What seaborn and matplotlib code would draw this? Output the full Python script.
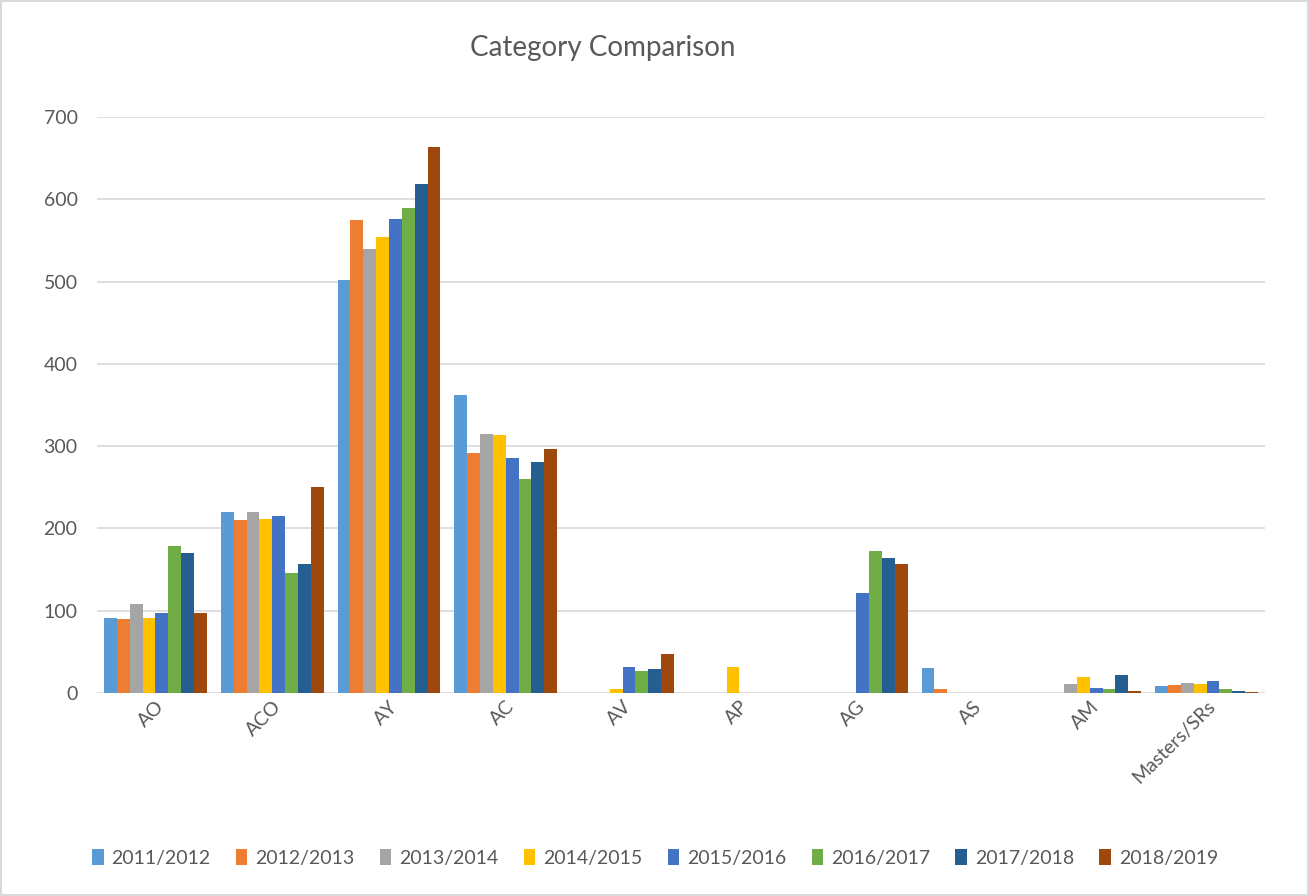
import pandas as pd
import seaborn as sns
import matplotlib.pyplot as plt

categorias = ['AO', 'ACO', 'AY', 'AC', 'AV', 'AP', 'AG', 'AS', 'AM', 'Masters/SRs']
anos = ['2011/2012', '2012/2013', '2013/2014', '2014/2015',
        '2015/2016', '2016/2017', '2017/2018', '2018/2019']

v_2011 = [91, 220, 502, 362, 0, 0, 0, 30, 0, 8]
v_2012 = [90, 210, 575, 292, 0, 0, 0, 5, 0, 10]
v_2013 = [108, 220, 540, 315, 0, 0, 0, 0, 11, 12]
v_2014 = [91, 211, 554, 313, 5, 31, 0, 0, 20, 11]
v_2015 = [97, 215, 576, 286, 31, 0, 122, 0, 6, 15]
v_2016 = [179, 146, 589, 260, 27, 0, 173, 0, 5, 5]
v_2017 = [170, 157, 619, 281, 29, 0, 164, 0, 22, 3]
v_2018 = [97, 250, 664, 297, 48, 0, 157, 0, 2, 1]

cores = ['#5B9BD5', '#ED7D31', '#A5A5A5', '#FFC000',
         '#4472C4', '#70AD47', '#255E91', '#9E480E']

valores = [v_2011, v_2012, v_2013, v_2014, v_2015, v_2016, v_2017, v_2018]
linhas = []
for ano, serie in zip(anos, valores):
    for cat, v in zip(categorias, serie):
        linhas.append({'Categoria': cat, 'Ano': ano, 'Valor': v})
df = pd.DataFrame(linhas)

sns.set_style('white')
plt.rcParams['font.family'] = ['Lato', 'DejaVu Sans']

fig = plt.figure(figsize=(13.09, 8.96), dpi=100)
fig.patch.set_edgecolor('#d9d9d9')
fig.patch.set_linewidth(1.5)
ax = fig.add_axes([97 / 1309, 1 - 693 / 896, (1265 - 97) / 1309, (693 - 117) / 896])

sns.barplot(data=df, x='Categoria', y='Valor', hue='Ano', palette=cores,
            width=0.88, gap=0, ax=ax, saturation=1, legend=True, linewidth=0)

ax.set_ylim(0, 700)
ax.set_xlim(-0.5, 9.5)
ax.set_yticks(range(0, 701, 100))
ax.yaxis.grid(True, color='#d9d9d9', linewidth=1.2)
ax.set_axisbelow(True)
for s in ax.spines.values():
    s.set_visible(False)
ax.tick_params(axis='both', length=0, colors='#595959', labelsize=14)
ax.tick_params(axis='y', pad=14)
plt.setp(ax.get_xticklabels(), rotation=45, ha='right', rotation_mode='anchor')
ax.set_xlabel('')
ax.set_ylabel('')

fig.text(603 / 1309, 1 - 48 / 896, 'Category Comparison', ha='center', va='center',
         fontsize=20, color='#595959')

ax.legend(loc='center', bbox_to_anchor=(655 / 1309, 1 - 858 / 896),
          bbox_transform=fig.transFigure, ncol=8, frameon=False,
          fontsize=14, labelcolor='#595959', handlelength=0.6, handleheight=0.9,
          handletextpad=0.4, columnspacing=1.3)

plt.savefig('out.png', dpi=100, edgecolor=fig.get_edgecolor())
